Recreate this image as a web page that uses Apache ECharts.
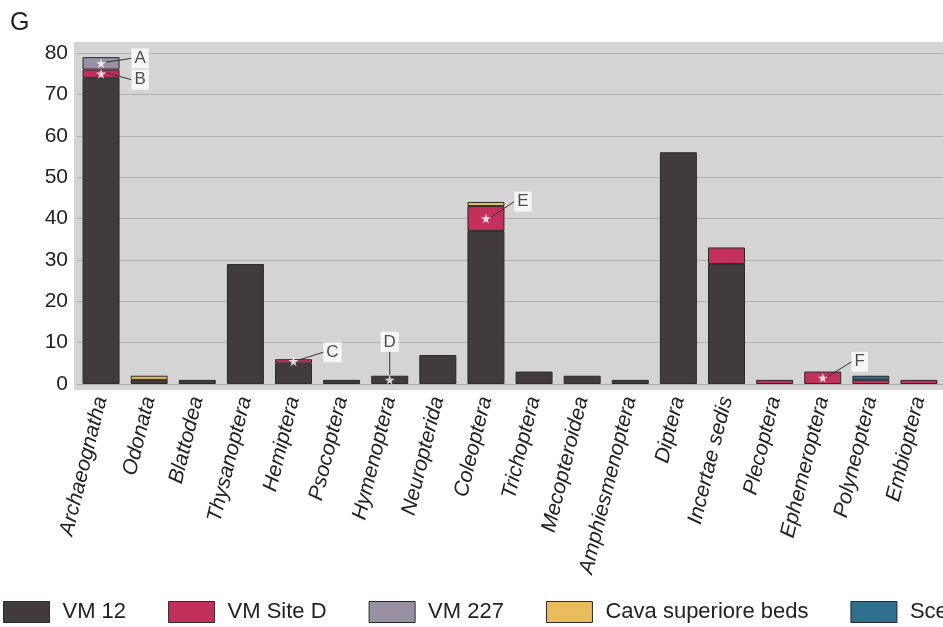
<!DOCTYPE html>
<html>
<head>
<meta charset="utf-8">
<script src="https://cdn.jsdelivr.net/npm/echarts@6/dist/echarts.min.js"></script>
<style>
  html, body { margin: 0; padding: 0; background: #fff; }
  #chart { width: 943px; height: 627px; }
</style>
</head>
<body>
<div id="chart"></div>
<script>
// 类别
const categories = ['Archaeognatha', 'Odonata', 'Blattodea', 'Thysanoptera', 'Hemiptera', 'Psocoptera',
  'Hymenoptera', 'Neuropterida', 'Coleoptera', 'Trichoptera', 'Mecopteroidea', 'Amphiesmenoptera',
  'Diptera', 'Incertae sedis', 'Plecoptera', 'Ephemeroptera', 'Polyneoptera', 'Embioptera']

// 各产地数值
const vm12 = [74, 1, 1, 29, 5, 1, 2, 7, 37, 3, 2, 1, 56, 29, 0, 0, 0, 0]
const vmSiteD = [2, 0, 0, 0, 1, 0, 0, 0, 6, 0, 0, 0, 0, 4, 1, 3, 1, 1]
const vm227 = [3, 0, 0, 0, 0, 0, 0, 0, 0, 0, 0, 0, 0, 0, 0, 0, 0, 0]
const cava = [0, 1, 0, 0, 0, 0, 0, 0, 1, 0, 0, 0, 0, 0, 0, 0, 0, 0]
const scelt = [0, 0, 0, 0, 0, 0, 0, 0, 0, 0, 0, 0, 0, 0, 0, 0, 1, 0]

const yTicks = [0, 10, 20, 30, 40, 50, 60, 70, 80]

// 标注：字母、类别、所在系列
const noteLetters = ['A', 'B', 'C', 'D', 'E', 'F']
const noteCats = ['Archaeognatha', 'Archaeognatha', 'Hemiptera', 'Hymenoptera', 'Coleoptera', 'Ephemeroptera']
const noteSeries = [2, 1, 1, 0, 1, 1]

const seriesDefs = [
  { name: 'VM 12', data: vm12, color: '#413b3e' },
  { name: 'VM Site D', data: vmSiteD, color: '#c3305b' },
  { name: 'VM 227', data: vm227, color: '#9990a4' },
  { name: 'Cava superiore beds', data: cava, color: '#e8bc5c' },
  { name: 'Sceltrichia', data: scelt, color: '#2f6e8c' }
]

// 标签偏移（像素）
const noteOffsets = [[39, -5], [39, 6], [39, -9], [0, -38], [37, -17], [37, -16]]

const starPath = 'path://M50,0 L61,35 L98,35 L68,57 L79,91 L50,70 L21,91 L32,57 L2,35 L39,35 Z'

function segMid(si, ci) {
  let base = 0
  for (let k = 0; k < si; k++) base += seriesDefs[k].data[ci]
  return base + seriesDefs[si].data[ci] / 2
}

const noteData = noteLetters.map((l, i) => {
  const ci = categories.indexOf(noteCats[i])
  return { value: [ci, segMid(noteSeries[i], ci)], name: l }
})

const font = '"Liberation Sans", Arial, sans-serif'

const barSeries = seriesDefs.map(s => ({
  name: s.name,
  type: 'bar',
  stack: 'total',
  barWidth: 37,
  data: s.data.map(v => (v === 0 ? null : v)),
  itemStyle: { color: s.color, borderColor: '#2a2a2a', borderWidth: 1 }
}))

let chart = echarts.init(document.getElementById('chart'), null, { renderer: 'canvas' })
chart.setOption({
  animation: false,
  backgroundColor: '#fff',
  graphic: [
    {
      type: 'rect', z: -10, silent: true,
      shape: { x: 74, y: 42, width: 900, height: 348 },
      style: { fill: '#d4d4d4' }
    },
    {
      type: 'text', left: 10, top: 11,
      style: { text: 'G', font: '25px ' + font, fill: '#222' }
    }
  ],
  legend: {
    left: 3, top: 601, width: 1400, padding: 0,
    itemWidth: 46, itemHeight: 21, itemGap: 42,
    selectedMode: false,
    data: seriesDefs.map(s => ({ name: s.name, icon: 'rect', itemStyle: { borderColor: '#2a2a2a', borderWidth: 1 } })),
    textStyle: { fontSize: 22, fontFamily: font, color: '#222', padding: [0, 0, 0, 8] }
  },
  grid: { left: 77, right: -6, top: 53, bottom: 243, containLabel: false },
  xAxis: {
    type: 'category',
    data: categories,
    axisLine: { show: false },
    axisTick: { show: false },
    axisLabel: {
      interval: 0, rotate: 76, margin: 13,
      fontSize: 21, fontStyle: 'italic', fontFamily: font, color: '#222'
    }
  },
  yAxis: {
    type: 'value',
    min: yTicks[0], max: yTicks[yTicks.length - 1], interval: 10,
    axisLine: { show: false },
    axisTick: { show: false },
    axisLabel: { fontSize: 21, fontFamily: font, color: '#222', margin: 9 },
    splitLine: { lineStyle: { color: '#aeaeae', width: 1 } }
  },
  series: barSeries.concat([{
    type: 'scatter',
    z: 5,
    symbol: starPath,
    symbolSize: 10,
    itemStyle: { color: '#fff' },
    data: noteData,
    label: {
      show: true, position: 'inside',
      formatter: p => p.name,
      backgroundColor: '#fff', padding: [2, 3, 1, 3],
      fontSize: 17, fontFamily: font, color: '#222'
    },
    labelLayout: p => ({ dx: noteOffsets[p.dataIndex][0], dy: noteOffsets[p.dataIndex][1] }),
    labelLine: { show: true, lineStyle: { color: '#333', width: 1 } }
  }])
})

window.addEventListener('resize', () => {
  chart.resize()
})
</script>
</body>
</html>
